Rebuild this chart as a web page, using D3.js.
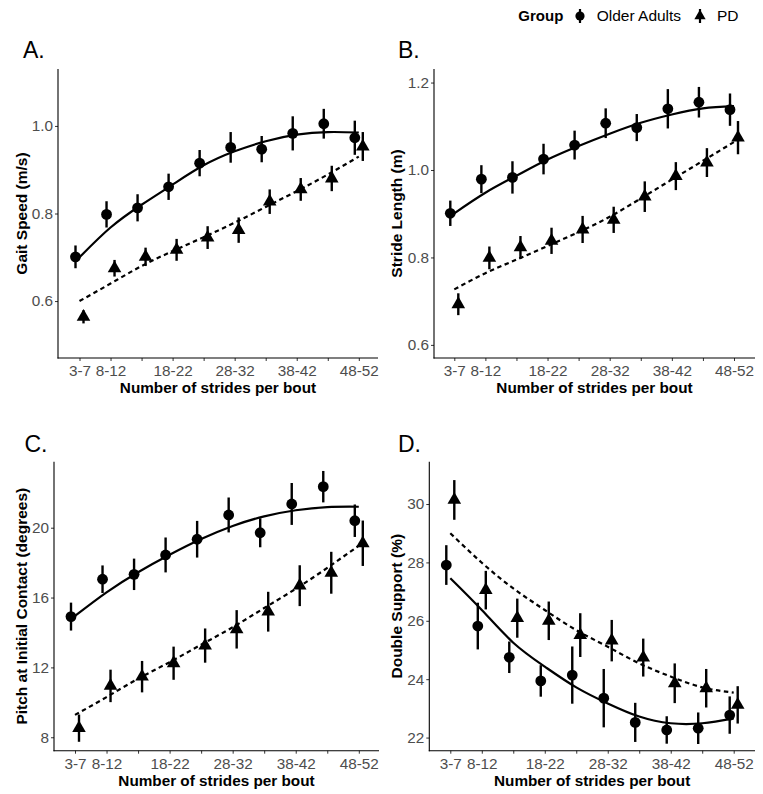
<!DOCTYPE html>
<html>
<head>
<meta charset="utf-8">
<script src="https://cdn.jsdelivr.net/npm/d3@7"></script>
<style>
  body { margin: 0; background: #fff; }
  svg { font-family: "Liberation Sans", Arial, Helvetica, sans-serif; }
</style>
</head>
<body>
<script>
var w = 763;
var h = 794;

// categories on the x axis, and which labels are printed
var categories = ["3-7", "8-12", "13-17", "18-22", "23-27", "28-32", "33-37", "38-42", "43-47", "48-52"];
var shownLabels = ["3-7", "8-12", "18-22", "28-32", "38-42", "48-52"];

// A. gait speed
var gaitOA   = [0.701, 0.798, 0.813, 0.861, 0.915, 0.951, 0.947, 0.983, 1.005, 0.973];
var gaitOAse = [0.026, 0.030, 0.031, 0.030, 0.030, 0.035, 0.030, 0.039, 0.034, 0.039];
var gaitPD   = [0.564, 0.675, 0.701, 0.717, 0.745, 0.762, 0.827, 0.855, 0.880, 0.953];
var gaitPDse = [0.015, 0.019, 0.021, 0.025, 0.026, 0.029, 0.028, 0.026, 0.029, 0.033];
var gaitOAfit = [0.700, 0.768, 0.820, 0.866, 0.910, 0.942, 0.965, 0.980, 0.986, 0.985];
var gaitPDfit = [0.600, 0.640, 0.680, 0.714, 0.746, 0.779, 0.815, 0.851, 0.889, 0.930];
var gaitTicks = [0.6, 0.8, 1.0];

// B. stride length
var strideOA   = [0.901, 0.979, 0.983, 1.025, 1.057, 1.107, 1.097, 1.140, 1.155, 1.138];
var strideOAse = [0.029, 0.032, 0.037, 0.035, 0.033, 0.034, 0.031, 0.045, 0.035, 0.037];
var stridePD   = [0.693, 0.799, 0.823, 0.838, 0.864, 0.886, 0.939, 0.986, 1.017, 1.074];
var stridePDse = [0.025, 0.026, 0.026, 0.030, 0.031, 0.030, 0.035, 0.032, 0.033, 0.038];
var strideOAfit = [0.901, 0.948, 0.987, 1.024, 1.055, 1.083, 1.108, 1.127, 1.141, 1.146];
var stridePDfit = [0.727, 0.764, 0.795, 0.826, 0.858, 0.893, 0.935, 0.978, 1.021, 1.064];
var strideTicks = [0.6, 0.8, 1.0, 1.2];

// C. pitch at initial contact
var pitchOA   = [14.91, 17.05, 17.33, 18.44, 19.34, 20.73, 19.71, 21.36, 22.35, 20.40];
var pitchOAse = [0.80, 0.79, 0.90, 1.00, 1.05, 1.00, 0.83, 1.20, 0.90, 0.93];
var pitchPD   = [8.52, 10.94, 11.47, 12.24, 13.25, 14.18, 15.19, 16.68, 17.42, 19.11];
var pitchPDse = [0.78, 0.93, 0.90, 0.95, 0.98, 1.10, 1.14, 1.17, 1.20, 1.30];
var pitchOAfit = [14.95, 16.30, 17.45, 18.45, 19.35, 20.10, 20.65, 21.00, 21.18, 21.20];
var pitchPDfit = [9.28, 10.30, 11.35, 12.30, 13.30, 14.30, 15.40, 16.50, 17.70, 18.97];
var pitchTicks = [8, 12, 16, 20];

// D. double support
var dsOA   = [27.91, 25.82, 24.75, 23.94, 24.14, 23.35, 22.52, 22.26, 22.32, 22.77];
var dsOAse = [0.68, 0.80, 0.54, 0.54, 0.98, 1.00, 0.67, 0.47, 0.54, 0.64];
var dsPD   = [30.14, 27.05, 26.09, 26.00, 25.51, 25.32, 24.74, 23.86, 23.69, 23.12];
var dsPDse = [0.68, 0.66, 0.67, 0.66, 0.75, 0.71, 0.65, 0.68, 0.66, 0.64];
var dsOAfit = [27.46, 26.37, 25.25, 24.43, 23.72, 23.17, 22.72, 22.49, 22.49, 22.66];
var dsPDfit = [29.00, 27.99, 27.11, 26.37, 25.68, 25.11, 24.54, 24.09, 23.72, 23.54];
var dsTicks = [22, 24, 26, 28, 30];

var panels = [
    {label: "A.", title: "Gait Speed (m/s)", oa: gaitOA, oaSe: gaitOAse, pd: gaitPD, pdSe: gaitPDse,
     oaFit: gaitOAfit, pdFit: gaitPDfit, ticks: gaitTicks, fmt: d3.format(".1f"),
     domain: [0.47, 1.13], axisX: 58, right: 378, top: 69, bottom: 358, xr: [79.5, 358.8],
     titleX: 21.7, labX: 23, labY: 57.5},
    {label: "B.", title: "Stride Length (m)", oa: strideOA, oaSe: strideOAse, pd: stridePD, pdSe: stridePDse,
     oaFit: strideOAfit, pdFit: stridePDfit, ticks: strideTicks, fmt: d3.format(".1f"),
     domain: [0.570, 1.231], axisX: 434, right: 755, top: 69, bottom: 358, xr: [454.3, 734],
     titleX: 396.7, labX: 398, labY: 57.5},
    {label: "C.", title: "Pitch at Initial Contact (degrees)", oa: pitchOA, oaSe: pitchOAse, pd: pitchPD, pdSe: pitchPDse,
     oaFit: pitchOAfit, pdFit: pitchPDfit, ticks: pitchTicks, fmt: d3.format("d"),
     domain: [7.23, 23.78], axisX: 54, right: 379, top: 461.7, bottom: 750.7, xr: [75, 358.8],
     titleX: 21.7, labX: 24.5, labY: 451.7},
    {label: "D.", title: "Double Support (%)", oa: dsOA, oaSe: dsOAse, pd: dsPD, pdSe: dsPDse,
     oaFit: dsOAfit, pdFit: dsPDfit, ticks: dsTicks, fmt: d3.format("d"),
     domain: [21.55, 31.45], axisX: 429.3, right: 755, top: 461.7, bottom: 750.7, xr: [450.3, 733.7],
     titleX: 396.7, labX: 398, labY: 451.7}
];

var dodge = 4;
var tri = d3.symbol().type(d3.symbolTriangle).size(80);

var svg = d3.select("body")
    .append("svg")
        .attr("width", w)
        .attr("height", h);

panels.forEach(function(p) {
    var x = d3.scalePoint().domain(categories).range(p.xr);
    var y = d3.scaleLinear().domain(p.domain).range([p.bottom, p.top]);
    var g = svg.append("g");

    // axes
    var yAxis = g.append("g")
        .attr("transform", "translate(" + p.axisX + ",0)")
        .call(d3.axisLeft(y).tickValues(p.ticks).tickFormat(p.fmt).tickSize(3).tickPadding(2));
    var xAxis = g.append("g")
        .attr("transform", "translate(0," + p.bottom + ")")
        .call(d3.axisBottom(x).tickSize(3).tickPadding(4.5)
            .tickFormat(function(d) { return shownLabels.indexOf(d) >= 0 ? d : ""; }));
    [yAxis, xAxis].forEach(function(a) {
        a.select(".domain").remove();
        a.selectAll(".tick line").attr("stroke", "#333");
        a.selectAll(".tick text")
            .attr("fill", "#4d4d4d")
            .attr("font-size", 15.3)
            .attr("font-family", "Liberation Sans, Arial, sans-serif");
    });
    g.append("line")
        .attr("x1", p.axisX).attr("x2", p.axisX)
        .attr("y1", p.top).attr("y2", p.bottom + 0.5)
        .attr("stroke", "#000").attr("stroke-width", 1.1);
    g.append("line")
        .attr("x1", p.axisX - 0.5).attr("x2", p.right)
        .attr("y1", p.bottom).attr("y2", p.bottom)
        .attr("stroke", "#000").attr("stroke-width", 1.1);

    // titles
    g.append("text")
        .text("Number of strides per bout")
        .attr("x", (p.axisX + p.right) / 2)
        .attr("y", p.bottom + 30)
        .attr("dy", "0.35em")
        .attr("text-anchor", "middle")
        .attr("font-weight", "bold")
        .attr("font-size", 15.3);
    g.append("text")
        .text(p.title)
        .attr("transform", "translate(" + p.titleX + "," + (p.top + p.bottom) / 2 + ") rotate(-90)")
        .attr("dy", "0.35em")
        .attr("text-anchor", "middle")
        .attr("font-weight", "bold")
        .attr("font-size", 15.5);
    g.append("text")
        .text(p.label)
        .attr("x", p.labX)
        .attr("y", p.labY)
        .attr("font-size", 23);

    // fitted lines
    var line = d3.line()
        .x(function(d, i) { return x(categories[i]); })
        .y(function(d) { return y(d); })
        .curve(d3.curveNatural);
    g.append("path")
        .attr("d", line(p.oaFit))
        .attr("fill", "none").attr("stroke", "#000").attr("stroke-width", 2.2);
    g.append("path")
        .attr("d", line(p.pdFit))
        .attr("fill", "none").attr("stroke", "#000").attr("stroke-width", 2.2)
        .attr("stroke-dasharray", "4.5,3.5");

    // older adults: circles with error bars
    g.selectAll(".oa-bar")
        .data(p.oa)
        .enter()
        .append("line")
            .attr("x1", function(d, i) { return x(categories[i]) - dodge; })
            .attr("x2", function(d, i) { return x(categories[i]) - dodge; })
            .attr("y1", function(d, i) { return y(d - p.oaSe[i]); })
            .attr("y2", function(d, i) { return y(d + p.oaSe[i]); })
            .attr("stroke", "#000").attr("stroke-width", 2.4);
    g.selectAll(".oa-pt")
        .data(p.oa)
        .enter()
        .append("circle")
            .attr("cx", function(d, i) { return x(categories[i]) - dodge; })
            .attr("cy", function(d) { return y(d); })
            .attr("r", 5.4)
            .attr("fill", "#000");

    // PD: triangles with error bars
    g.selectAll(".pd-bar")
        .data(p.pd)
        .enter()
        .append("line")
            .attr("x1", function(d, i) { return x(categories[i]) + dodge; })
            .attr("x2", function(d, i) { return x(categories[i]) + dodge; })
            .attr("y1", function(d, i) { return y(d - p.pdSe[i]); })
            .attr("y2", function(d, i) { return y(d + p.pdSe[i]); })
            .attr("stroke", "#000").attr("stroke-width", 2.4);
    g.selectAll(".pd-pt")
        .data(p.pd)
        .enter()
        .append("path")
            .attr("d", tri)
            .attr("transform", function(d, i) {
                return "translate(" + (x(categories[i]) + dodge) + "," + y(d) + ")";
            })
            .attr("fill", "#000");
});

// legend
var leg = svg.append("g");
leg.append("text").text("Group")
    .attr("x", 518.3).attr("y", 21)
    .attr("font-weight", "bold").attr("font-size", 15);
leg.append("line")
    .attr("x1", 580).attr("x2", 580).attr("y1", 9).attr("y2", 23)
    .attr("stroke", "#000").attr("stroke-width", 2.2);
leg.append("circle")
    .attr("cx", 580).attr("cy", 16).attr("r", 4.6).attr("fill", "#000");
leg.append("text").text("Older Adults")
    .attr("x", 596.7).attr("y", 21).attr("font-size", 15.5);
leg.append("line")
    .attr("x1", 700).attr("x2", 700).attr("y1", 9).attr("y2", 23)
    .attr("stroke", "#000").attr("stroke-width", 2.2);
leg.append("path")
    .attr("d", d3.symbol().type(d3.symbolTriangle).size(55))
    .attr("transform", "translate(700,16)")
    .attr("fill", "#000");
leg.append("text").text("PD")
    .attr("x", 717).attr("y", 21).attr("font-size", 15.5);
</script>
</body>
</html>
